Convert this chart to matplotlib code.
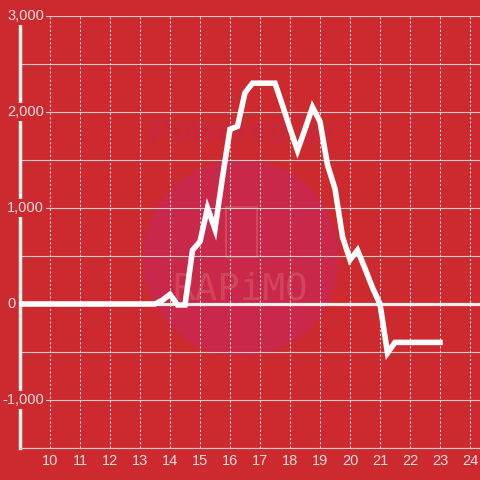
import matplotlib
matplotlib.use("Agg")
import matplotlib.pyplot as plt
from matplotlib.patches import Circle, Rectangle
from matplotlib.transforms import blended_transform_factory

plt.rcParams["font.family"] = ["Liberation Sans", "DejaVu Sans"]

# hour of day and power values
horas = [9.0, 13.5, 13.75, 14.0, 14.25, 14.5, 14.75, 15.0, 15.25, 15.5, 15.75,
         16.0, 16.25, 16.5, 16.75, 17.0, 17.25, 17.5, 17.75, 18.0, 18.25, 18.5,
         18.75, 19.0, 19.25, 19.5, 19.75, 20.0, 20.25, 20.5, 20.75, 21.0, 21.25,
         21.5, 21.75, 22.0, 22.25, 22.5, 22.75, 23.0]
valores = [0, 0, 40, 100, -10, -10, 560, 650, 1000, 780, 1320,
           1820, 1850, 2200, 2300, 2300, 2300, 2300, 2070, 1830, 1600, 1820,
           2050, 1900, 1450, 1200, 700, 460, 560, 370, 170, 0, -510,
           -400, -400, -400, -400, -400, -400, -400]

xticks = list(range(10, 25))
yticks_labels = [3000, 2000, 1000, 0, -1000]
grid_y = list(range(-1500, 3001, 500))

fondo = "#cc2a2f"
texto = "#f3dede"

fig = plt.figure(figsize=(4.8, 4.8), dpi=100, facecolor=fondo)
ax = fig.add_axes([20/480, 32/480, 460/480, 432/480])
ax.set_facecolor("none")
ax.set_xlim(9, 9 + 460/30)
ax.set_ylim(-1500, 3000)

# marca de agua
ft = fig.transFigure
ax.add_patch(Circle((241/480, 1 - 258/480), 98/480, transform=ft,
                    facecolor="#c9284a", edgecolor="none", zorder=0, clip_on=False))
ax.text(243/480, 1 - 133/480, "Powered by", transform=ft, ha="center",
        va="center", fontsize=24, fontweight="bold", style="italic",
        color="#c7283e", zorder=0.5)
ax.add_patch(Rectangle((226/480, 1 - 257/480), 31/480, 50/480, transform=ft,
                       facecolor="none", edgecolor="#d24a5c", lw=1.3, zorder=0.5,
                       clip_on=False))
ax.text(240/480, 1 - 290/480, "RAPiMO", transform=ft, ha="center",
        va="center", fontsize=27, family="DejaVu Sans Mono",
        color="#d0455a", zorder=0.5)

for g in grid_y:
    ax.axhline(g, color="#cfc9c9", lw=0.8, zorder=1)
for x in xticks:
    ax.axvline(x, color="#f0e2e2", lw=0.75, linestyle=(0, (2, 2)), zorder=1)
ax.axhline(0, color="#f2eeee", lw=2.3, zorder=2)

ax.plot(horas, valores, color="white", lw=4.0, solid_joinstyle="miter",
        solid_capstyle="projecting", zorder=3)

for s in ["top", "right"]:
    ax.spines[s].set_visible(False)
ax.spines["bottom"].set_color("#cfc9c9")
ax.spines["bottom"].set_linewidth(0.8)
ax.spines["left"].set_color("#f4f0f0")
ax.spines["left"].set_linewidth(2.5)

ax.set_xticks(xticks)
ax.set_xticklabels([str(x) for x in xticks])
ax.set_yticks([])
ax.tick_params(axis="x", length=0, pad=4, labelsize=10.5, labelcolor=texto)

trans = blended_transform_factory(fig.transFigure, ax.transData)
for v in yticks_labels:
    x0 = 2/480 if v < 0 else 7/480
    ax.text(x0, v, f"{v:,}", transform=trans, ha="left",
            va="center", fontsize=10.5, color=texto, zorder=6,
            bbox=dict(facecolor=fondo, edgecolor="none", pad=1.5))

fig.savefig("out.png", dpi=100, facecolor=fondo)
